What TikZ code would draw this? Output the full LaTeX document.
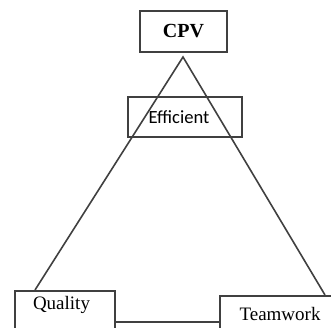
\documentclass[tikz,border=0pt]{standalone}
\usepackage{fontspec}
\setmainfont{Liberation Serif}
\newfontfamily\effont{Carlito}
\begin{document}
\begin{tikzpicture} [
  x=1pt, y=-1pt,
  line width=1.6pt,
  box/.style= {rectangle,draw=black!75,inner xsep=0,inner ysep=0,font=\fontsize{19}{22}\selectfont},
  leg/.style= {draw=black!75},
]
\useasboundingbox (0,0) rectangle (331,328);
\clip (0,0) rectangle (331,328);
\node (cpv) [box,minimum width=87pt,minimum height=41pt,font=\fontsize{20}{22}\selectfont\bfseries] at (183.5,31.5) {CPV};
\node (eff) [box,minimum width=114pt,minimum height=40pt,font=\fontsize{18.6}{22}\effont] at (185,117) {\hspace*{-12pt}Efficient};
\node (qual) [box,anchor=north,minimum width=100pt,text height=15pt,text depth=36pt,inner ysep=4pt] at (65,290) {\hspace*{-7pt}Quality};
\node (team) [box,anchor=north,minimum width=120pt,text height=21pt,text depth=30pt,inner ysep=4pt] at (280,295) {Teamwork};
\coordinate (apex) at (183,57);
\coordinate (qtop) at (35,290);
\coordinate (ttop) at (325,295);
\coordinate (link) at (0,322);
\draw [leg] (qtop) -- (apex) -- (ttop);
\draw [leg] (qual.east |- link) -- (team.west |- link);
\end{tikzpicture}
\end{document}
